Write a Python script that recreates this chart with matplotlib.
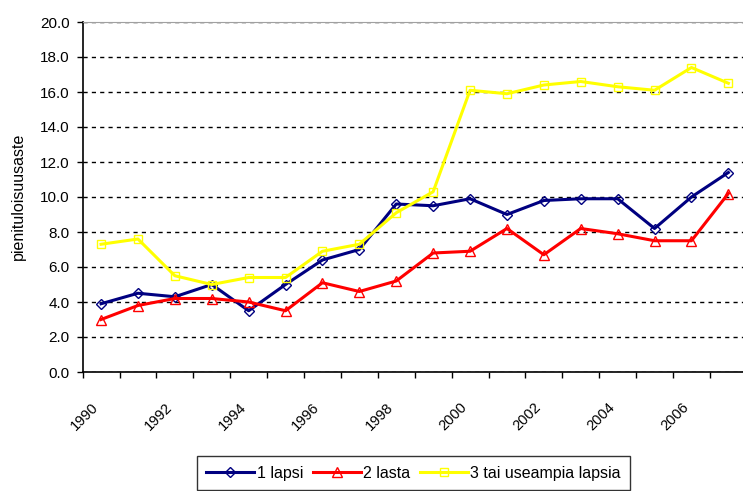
import matplotlib
matplotlib.use('Agg')
import matplotlib.pyplot as plt
import matplotlib.transforms as mtransforms
import numpy as np

plt.rcParams['font.family'] = ['Liberation Sans', 'DejaVu Sans']

years = list(range(1990, 2008))
lapsi1 = [3.9, 4.5, 4.3, 5.0, 3.5, 5.0, 6.4, 7.0, 9.6, 9.5, 9.9, 9.0, 9.8, 9.9, 9.9, 8.2, 10.0, 11.4]
lasta2 = [3.0, 3.8, 4.2, 4.2, 4.0, 3.5, 5.1, 4.6, 5.2, 6.8, 6.9, 8.2, 6.7, 8.2, 7.9, 7.5, 7.5, 10.2]
lapsia3 = [7.3, 7.6, 5.5, 5.0, 5.4, 5.4, 6.9, 7.3, 9.1, 10.3, 16.1, 15.9, 16.4, 16.6, 16.3, 16.1, 17.4, 16.5]
names = ['1 lapsi', '2 lasta', '3 tai useampia lapsia']

fig = plt.figure(figsize=(7.43, 4.91), dpi=100)
ax = fig.add_axes([82.6 / 743, 119 / 491, 664.2 / 743, 350 / 491])

x = np.arange(len(years))
ax.plot(x, lapsi1, color='#000080', lw=2.2, marker='D', ms=5, mfc='none', mec='#000080', mew=1, label=names[0])
ax.plot(x, lasta2, color='#ff0000', lw=2.2, marker='^', ms=7, mfc='none', mec='#ff0000', mew=1, label=names[1])
ax.plot(x, lapsia3, color='#ffff00', lw=2.2, marker='s', ms=6, mfc='none', mec='#ffff00', mew=1, label=names[2])

ax.set_xlim(-0.5, len(years) - 0.5)
ax.set_ylim(0, 20)
ax.set_yticks(np.arange(0, 20.1, 2))
ax.set_yticklabels([f'{v:.1f}' for v in np.arange(0, 20.1, 2)], fontsize=11)
ax.yaxis.grid(True, color='black', linestyle=(0, (3, 3)), lw=1)
ax.set_axisbelow(True)

# tick marks between categories, labels on every other year
ax.set_xticks(np.arange(-0.5, len(years), 1))
ax.set_xticklabels([])
ax.set_xticks(x[::2], minor=True)
ax.set_xticklabels([str(y) for y in years[::2]], minor=True, rotation=45,
                   ha='right', va='top', rotation_mode='anchor', fontsize=10.5)
ax.tick_params(axis='x', which='major', length=4, width=1, direction='out')
ax.tick_params(axis='x', which='minor', length=0, pad=20)
ax.tick_params(axis='y', length=4.3, width=1, direction='out', pad=5)
offset = mtransforms.ScaledTranslation(-10 / 100, 0, fig.dpi_scale_trans)
for lab in ax.get_xticklabels(minor=True):
    lab.set_transform(lab.get_transform() + offset)

ax.spines['top'].set_color('#a0a0a0')
ax.spines['right'].set_visible(False)
ax.spines['left'].set_linewidth(1.2)
ax.spines['bottom'].set_linewidth(1.2)

fig.text(18 / 743, 1 - 196.5 / 491, 'pienituloisuusaste', rotation=90, ha='center', va='center', fontsize=11.5)

leg = fig.legend(loc='upper center', bbox_to_anchor=(413.5 / 743, 1 - 456 / 491), ncol=3,
                 fontsize=11.5, frameon=True, fancybox=False, edgecolor='black',
                 handlelength=3, columnspacing=0.6, handletextpad=0.15, borderpad=0.6,
                 borderaxespad=0)
leg.get_frame().set_linewidth(1)

fig.savefig('out.png', dpi=100)
